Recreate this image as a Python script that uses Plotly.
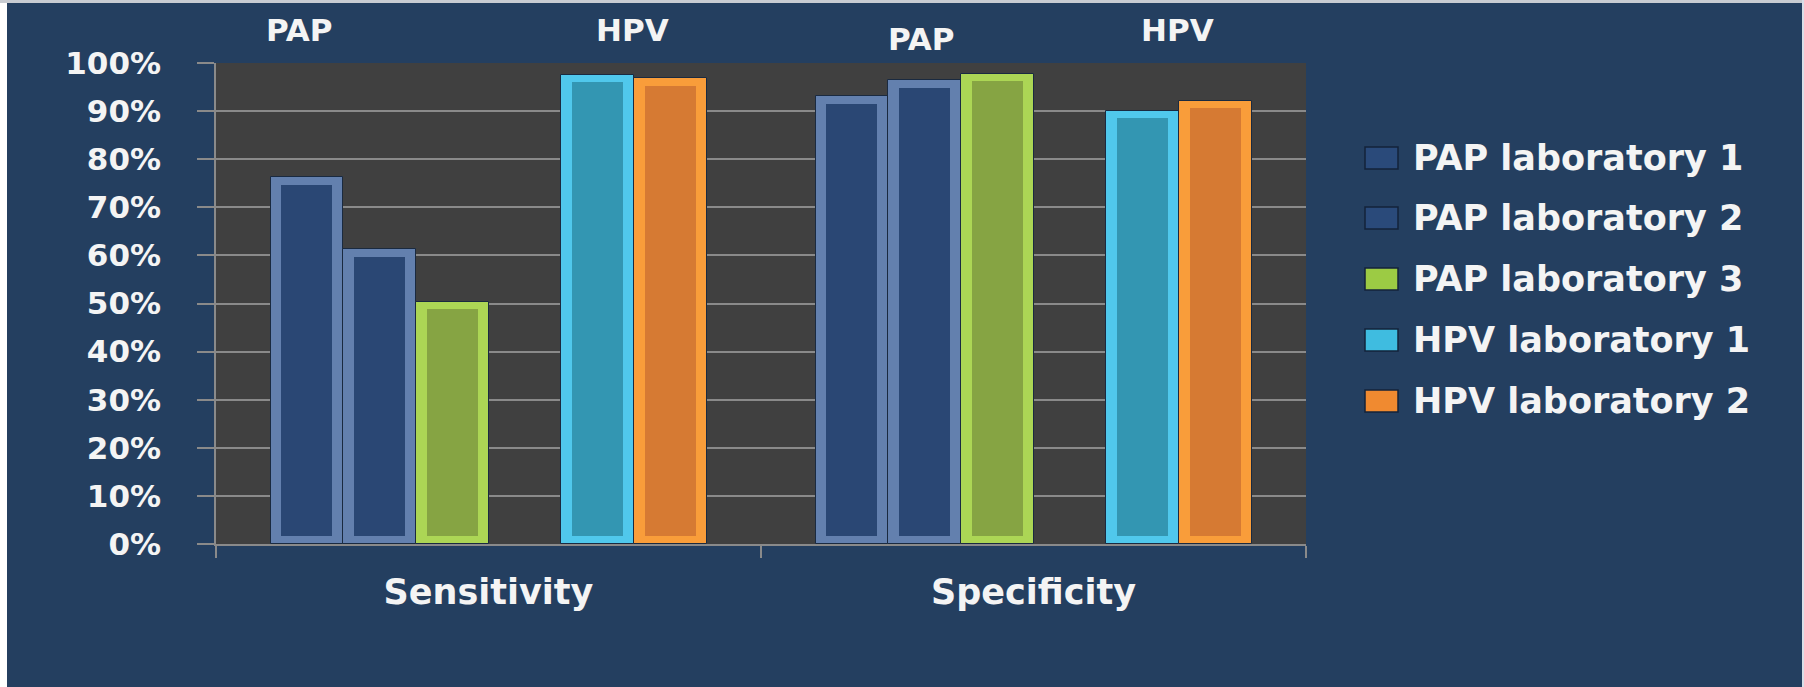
import plotly.graph_objects as go

# ---- data -------------------------------------------------------------
categories = ["Sensitivity", "Specificity"]
series_names = [
    "PAP laboratory 1",
    "PAP laboratory 2",
    "PAP laboratory 3",
    "HPV laboratory 1",
    "HPV laboratory 2",
]
pap_lab1 = [76.2, 93.1]
pap_lab2 = [61.3, 96.5]
pap_lab3 = [50.4, 97.8]
hpv_lab1 = [97.6, 90.1]
hpv_lab2 = [96.9, 92.2]
y_ticks = list(range(0, 101, 10))
group_labels = ["PAP", "HPV", "PAP", "HPV"]

series_values = [pap_lab1, pap_lab2, pap_lab3, hpv_lab1, hpv_lab2]

# ---- styling ----------------------------------------------------------
W, H = 1804, 687
PLOT_L, PLOT_R, PLOT_T, PLOT_B = 216, 1306, 63, 544
BG = "#243F60"
PLOT_BG = "#404040"
GRID = "#8A8A8A"
TEXT = "#F4F4F4"
FONT = "DejaVu Sans"
WEIGHT = 700

# (bevel colour, face colour) per series
bar_colors = [
    ("#6380AE", "#2A4774"),
    ("#6380AE", "#2A4774"),
    ("#ACD655", "#86A443"),
    ("#50C8EC", "#3396B2"),
    ("#F99D3A", "#D67A33"),
]
legend_colors = ["#2A4A7A", "#2A4A7A", "#9CCB44", "#3FBCE0", "#F08A30"]

# slot layout inside each category: three PAP bars, an empty slot, two HPV bars
slots = [0, 1, 2, 4, 5]
n_slots = 6
slot_w = 1.0 / (n_slots + 1.5)
bevel_y = 1.6          # bevel thickness in axis units (%)
face_frac = 0.70       # face width relative to the whole bar


def px_x(px):
    return (px - PLOT_L) / (PLOT_R - PLOT_L)


def px_y(py):
    return (PLOT_B - py) / (PLOT_B - PLOT_T)


fig = go.Figure()

for name, vals, slot, (bevel, face) in zip(series_names, series_values, slots, bar_colors):
    xs = [ci + (slot - (n_slots - 1) / 2) * slot_w for ci in range(len(categories))]
    # outer bar (bevel frame)
    fig.add_trace(go.Bar(
        x=xs, y=vals, width=slot_w, name=name,
        marker=dict(color=bevel, line=dict(color="#1A2A40", width=1)),
        showlegend=False,
    ))
    # inner face
    fig.add_trace(go.Bar(
        x=xs, y=[v - 2 * bevel_y for v in vals], base=bevel_y,
        width=slot_w * face_frac, name=name,
        marker=dict(color=face, line=dict(width=0)),
        showlegend=False, hoverinfo="skip",
    ))

# ---- frame around the slide ------------------------------------------
shapes = [
    dict(type="rect", xref="paper", yref="paper", x0=px_x(0), x1=px_x(7),
         y0=px_y(H), y1=px_y(0), fillcolor="#FFFFFF", line=dict(width=0)),
    dict(type="rect", xref="paper", yref="paper", x0=px_x(0), x1=px_x(W),
         y0=px_y(3), y1=px_y(0), fillcolor="#C8CCD2", line=dict(width=0)),
    dict(type="rect", xref="paper", yref="paper", x0=px_x(W - 2), x1=px_x(W),
         y0=px_y(H), y1=px_y(0), fillcolor="#D8DEE8", line=dict(width=0)),
]

annotations = []

# group labels above the bars
group_pos = [(299, 30), (632, 30), (921, 39), (1177, 30)]
for text, (gx, gy) in zip(group_labels, group_pos):
    annotations.append(dict(
        x=px_x(gx), y=px_y(gy), xref="paper", yref="paper", text=text,
        showarrow=False, xanchor="center", yanchor="middle",
        font=dict(family=FONT, size=31, color=TEXT, weight=WEIGHT),
    ))

# legend drawn as swatches + labels
legend_rows = [158, 218, 279, 340, 401]
for name, color, ry in zip(series_names, legend_colors, legend_rows):
    shapes.append(dict(
        type="rect", xref="paper", yref="paper",
        x0=px_x(1365), x1=px_x(1398), y0=px_y(ry + 11), y1=px_y(ry - 11),
        fillcolor=color, line=dict(color="#13233A", width=1.5),
    ))
    annotations.append(dict(
        x=px_x(1411), y=px_y(ry), xref="paper", yref="paper", text=name,
        showarrow=False, xanchor="left", yanchor="middle",
        font=dict(family=FONT, size=35, color=TEXT, weight=WEIGHT),
    ))

fig.update_layout(
    width=W, height=H, autosize=False,
    margin=dict(l=PLOT_L, r=W - PLOT_R, t=PLOT_T, b=H - PLOT_B, pad=0),
    paper_bgcolor=BG, plot_bgcolor=PLOT_BG,
    barmode="overlay", bargap=0,
    showlegend=False,
    shapes=shapes, annotations=annotations,
    font=dict(family=FONT, color=TEXT),
)

fig.update_xaxes(
    range=[-0.5, len(categories) - 0.5],
    tickmode="array", tickvals=list(range(len(categories))), ticktext=categories,
    ticks="", showgrid=False, zeroline=False,
    showline=True, linecolor=GRID, linewidth=1.5,
    tickfont=dict(family=FONT, size=35, color=TEXT, weight=WEIGHT),
    ticklabelstandoff=16,
    minor=dict(tickmode="array", tickvals=[i - 0.5 for i in range(len(categories) + 1)],
               ticks="outside", ticklen=12, tickcolor=GRID, tickwidth=1.5, showgrid=False),
    automargin=False, fixedrange=True,
)

fig.update_yaxes(
    range=[0, 100],
    tickmode="array", tickvals=y_ticks, ticktext=[f"{t}%" for t in y_ticks],
    ticks="outside", ticklen=17, tickcolor=GRID, tickwidth=1.5,
    showgrid=True, gridcolor=GRID, gridwidth=1.5, zeroline=False,
    showline=True, linecolor=GRID, linewidth=1.5,
    tickfont=dict(family=FONT, size=31, color=TEXT, weight=WEIGHT),
    ticklabelstandoff=30,
    automargin=False, fixedrange=True,
)

fig.write_html("out.html")
